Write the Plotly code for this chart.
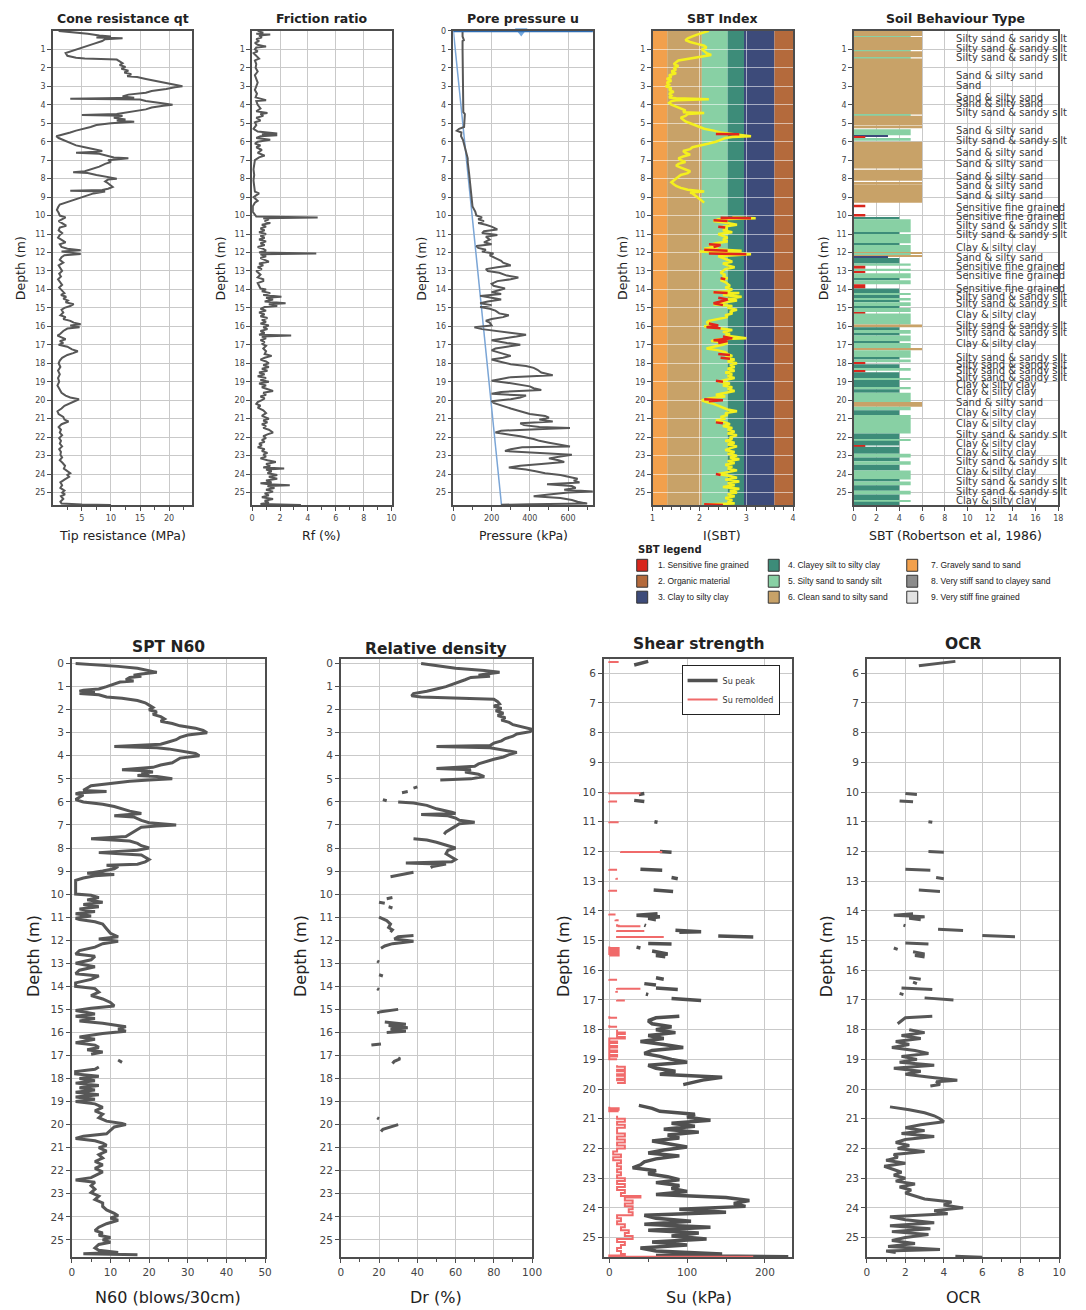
import plotly.graph_objects as go

W, H = 1086, 1310

# ---------------- DATA (depth m, value) ----------------
QT = [(0.0,1.0),(0.05,3),(0.15,6),(0.25,8),(0.3,10),(0.35,7.5),(0.4,12),(0.45,9),(0.55,8.5),(0.7,7),(0.85,5.5),(1.0,4),(1.1,3),(1.2,2.2),(1.35,2.5),(1.45,4),(1.5,5.5),(1.55,11),(1.65,11.5),(1.75,12),(1.85,11.5),(1.95,12.5),(2.05,11.8),(2.15,13),(2.25,12.3),(2.35,13.5),(2.45,12.8),(2.5,14.5),(2.6,16),(2.7,17.5),(2.8,19),(2.9,20.5),(3.0,22.3),(3.05,21),(3.15,19.5),(3.25,17),(3.35,16),(3.45,13),(3.55,12),(3.62,14),(3.68,3),(3.72,15),(3.8,16),(3.9,18.5),(4.0,20.6),(4.05,19),(4.15,17),(4.25,16),(4.35,14),(4.45,12.5),(4.5,11),(4.55,5),(4.6,12),(4.7,10.5),(4.8,12.5),(4.85,11),(4.92,14),(5.0,10),(5.1,7.5),(5.2,6.5),(5.3,5),(5.4,4),(5.5,3),(5.6,1.5),(5.7,0.6),(5.8,1.0),(5.9,1.8),(6.0,2.5),(6.1,3.5),(6.2,4),(6.3,5.5),(6.4,7),(6.5,8.5),(6.55,7.5),(6.6,4),(6.65,8),(6.75,9.5),(6.85,10.5),(6.9,13),(6.95,11),(7.0,9.5),(7.1,10),(7.2,9),(7.35,8),(7.5,6.5),(7.6,5.5),(7.65,3.5),(7.7,6),(7.8,7.5),(7.9,9),(8.0,11),(8.05,9.5),(8.15,9),(8.25,9.5),(8.35,10),(8.45,10.3),(8.55,9.5),(8.62,8.5),(8.66,3),(8.7,9),(8.8,7),(8.9,6),(9.0,5),(9.1,4),(9.2,3),(9.3,2),(9.4,1.2),(9.55,0.9),(9.7,0.7),(9.85,1.0),(10.0,1.2),(10.1,2.2),(10.2,1.5),(10.3,1.0),(10.45,1.8),(10.55,2.3),(10.65,1.2),(10.8,1.0),(10.95,1.6),(11.05,1.2),(11.2,0.9),(11.35,1.7),(11.45,2.2),(11.55,1.2),(11.7,1.5),(11.8,2.5),(11.88,4.8),(11.95,1.5),(12.02,3),(12.08,4.8),(12.15,2),(12.25,1.5),(12.4,1.2),(12.55,1.8),(12.7,1.0),(12.85,1.3),(13.0,1.6),(13.15,1.1),(13.3,1.4),(13.45,0.9),(13.6,1.2),(13.75,1.6),(13.9,1.1),(14.05,1.5),(14.2,2.0),(14.3,1.4),(14.4,2.3),(14.5,1.8),(14.6,2.6),(14.7,2.2),(14.8,3.6),(14.9,3.0),(15.0,2.0),(15.1,1.5),(15.25,1.8),(15.4,1.3),(15.5,2.2),(15.6,1.8),(15.7,3.0),(15.8,3.6),(15.88,4.8),(15.95,3),(16.05,4.6),(16.12,2.5),(16.25,1.8),(16.4,1.3),(16.5,0.8),(16.6,1.5),(16.7,2.2),(16.8,1.2),(16.9,1.8),(17.0,1.0),(17.1,2.5),(17.25,3.3),(17.35,4.3),(17.45,3.5),(17.55,2.5),(17.7,1.6),(17.85,1.2),(18.0,1.0),(18.2,1.3),(18.4,0.9),(18.6,1.2),(18.8,0.9),(19.0,1.1),(19.2,0.8),(19.4,1.2),(19.6,1.5),(19.75,2.2),(19.85,3),(19.95,4.5),(20.05,3.8),(20.15,2.8),(20.3,2.0),(20.45,1.5),(20.6,0.8),(20.75,1.0),(20.9,1.8),(21.05,2.0),(21.15,2.7),(21.3,1.5),(21.45,1.0),(21.6,1.4),(21.75,1.2),(21.9,1.6),(22.05,1.1),(22.2,1.4),(22.35,1.2),(22.5,1.6),(22.65,1.1),(22.8,1.4),(22.95,1.3),(23.1,1.6),(23.25,1.2),(23.4,1.7),(23.55,2.1),(23.7,1.9),(23.85,2.6),(23.95,3.0),(24.05,2.5),(24.15,2.8),(24.3,2.0),(24.45,1.3),(24.6,1.6),(24.75,1.3),(24.9,2.0),(25.0,1.6),(25.1,2.1),(25.2,1.4),(25.35,1.8),(25.5,1.3),(25.6,1.5),(25.65,5),(25.68,10)]

RF = [(0.0,0.4),(0.1,0.8),(0.15,0.3),(0.2,1.3),(0.25,0.5),(0.35,0.7),(0.45,0.3),(0.55,0.5),(0.65,0.2),(0.75,0.4),(0.85,1.0),(0.9,0.3),(1.0,0.2),(1.1,0.4),(1.2,0.1),(1.35,0.3),(1.5,0.5),(1.6,0.2),(1.8,0.3),(2.0,0.25),(2.2,0.4),(2.4,0.2),(2.6,0.3),(2.8,0.4),(3.0,0.3),(3.2,0.2),(3.4,0.35),(3.6,0.25),(3.75,1.0),(3.8,0.3),(4.0,0.4),(4.2,0.6),(4.35,0.3),(4.45,1.1),(4.5,0.6),(4.6,0.8),(4.7,0.3),(4.85,0.6),(4.95,0.2),(5.1,0.3),(5.3,0.1),(5.45,0.4),(5.55,1.8),(5.6,0.7),(5.65,1.8),(5.7,0.6),(5.8,0.3),(5.9,1.3),(6.0,0.4),(6.1,0.2),(6.2,0.6),(6.3,0.3),(6.45,0.7),(6.6,0.4),(6.75,0.9),(6.85,0.5),(7.0,0.2),(7.2,0.15),(7.5,0.1),(7.8,0.15),(8.1,0.1),(8.4,0.15),(8.7,0.2),(8.8,0.5),(8.9,0.3),(9.0,0.1),(9.2,0.4),(9.3,0.2),(9.5,0.05),(9.8,0.05),(10.05,0.3),(10.1,4.7),(10.15,0.8),(10.2,1.2),(10.3,0.9),(10.4,1.3),(10.5,0.7),(10.6,1.0),(10.7,0.6),(10.8,0.9),(10.9,0.5),(11.0,1.0),(11.1,0.6),(11.2,0.9),(11.3,0.5),(11.4,1.0),(11.5,0.6),(11.6,0.9),(11.7,0.4),(11.8,0.8),(11.9,1.0),(12.0,0.5),(12.05,4.6),(12.1,0.6),(12.2,1.0),(12.3,0.6),(12.4,0.9),(12.5,1.2),(12.6,0.5),(12.7,0.8),(12.8,0.4),(12.9,0.7),(13.0,0.3),(13.2,0.6),(13.35,0.4),(13.45,0.8),(13.55,0.8),(13.65,0.4),(13.8,0.5),(13.95,0.6),(14.0,1.0),(14.1,0.7),(14.2,1.3),(14.3,0.8),(14.4,2.1),(14.45,1.0),(14.55,1.5),(14.65,0.9),(14.75,2.4),(14.8,1.2),(14.9,1.8),(14.95,0.9),(15.05,0.6),(15.15,1.0),(15.25,0.5),(15.35,0.9),(15.45,0.6),(15.55,1.1),(15.65,0.7),(15.75,1.0),(15.85,0.6),(15.95,1.2),(16.05,0.8),(16.15,1.1),(16.25,0.6),(16.35,0.9),(16.45,0.5),(16.5,2.8),(16.55,0.7),(16.65,1.0),(16.75,0.6),(16.85,0.9),(16.95,0.7),(17.05,1.0),(17.2,0.8),(17.35,1.0),(17.5,0.9),(17.6,1.4),(17.7,0.9),(17.8,0.6),(17.9,1.0),(18.0,1.2),(18.1,0.8),(18.2,1.2),(18.3,0.7),(18.4,1.1),(18.5,0.5),(18.6,0.9),(18.7,0.4),(18.8,1.0),(18.9,0.6),(19.0,1.2),(19.1,0.5),(19.2,1.0),(19.3,0.7),(19.4,1.1),(19.5,1.5),(19.6,0.8),(19.7,1.0),(19.8,0.6),(19.9,0.9),(20.0,0.7),(20.1,0.4),(20.2,0.3),(20.3,0.6),(20.4,0.4),(20.55,0.8),(20.7,1.0),(20.85,0.7),(21.0,1.2),(21.1,0.8),(21.2,1.1),(21.3,0.7),(21.4,1.0),(21.5,0.8),(21.6,1.2),(21.75,1.5),(21.85,1.1),(21.95,0.8),(22.05,1.0),(22.15,0.7),(22.25,0.9),(22.35,0.5),(22.45,0.7),(22.55,0.4),(22.65,0.9),(22.75,0.7),(22.85,1.1),(22.95,0.8),(23.05,1.0),(23.15,0.6),(23.25,1.1),(23.35,1.7),(23.45,1.0),(23.55,1.3),(23.65,0.8),(23.7,2.3),(23.75,1.0),(23.85,1.4),(23.95,1.1),(24.05,1.8),(24.15,1.2),(24.25,1.8),(24.35,1.0),(24.45,1.4),(24.5,0.6),(24.55,1.2),(24.6,2.7),(24.65,1.1),(24.75,1.6),(24.85,1.0),(24.95,1.5),(25.05,0.9),(25.15,1.2),(25.25,0.7),(25.35,1.5),(25.45,0.9),(25.55,1.2),(25.62,0.6),(25.68,3.5)]

U = [(0.0,48),(0.3,48),(0.5,55),(0.55,48),(1.0,48),(2.0,49),(3.0,50),(4.0,51),(4.4,52),(4.5,60),(4.8,58),(5.0,55),(5.2,56),(5.3,30),(5.4,18),(5.5,42),(5.7,40),(5.9,50),(6.1,55),(6.3,60),(6.5,65),(6.7,70),(6.9,75),(7.1,75),(7.4,80),(7.7,82),(8.0,85),(8.3,88),(8.6,90),(8.9,95),(9.2,98),(9.5,100),(9.8,115),(10.0,120),(10.1,150),(10.2,130),(10.3,160),(10.4,130),(10.5,170),(10.6,200),(10.75,230),(10.85,160),(10.95,150),(11.05,230),(11.15,170),(11.3,190),(11.45,160),(11.55,200),(11.65,120),(11.75,130),(11.85,170),(11.95,150),(12.05,210),(12.15,190),(12.3,220),(12.45,250),(12.55,260),(12.7,300),(12.8,230),(12.9,170),(13.0,180),(13.1,240),(13.25,280),(13.35,340),(13.45,300),(13.55,230),(13.7,200),(13.8,210),(13.95,270),(14.05,230),(14.15,200),(14.25,250),(14.35,140),(14.45,200),(14.55,250),(14.65,180),(14.75,140),(14.85,200),(14.95,140),(15.05,190),(15.15,220),(15.3,240),(15.4,290),(15.5,260),(15.6,200),(15.7,170),(15.8,190),(15.95,200),(16.05,110),(16.15,150),(16.25,230),(16.35,300),(16.45,380),(16.55,330),(16.65,250),(16.75,200),(16.9,280),(17.0,350),(17.1,280),(17.2,220),(17.3,200),(17.45,250),(17.6,300),(17.7,260),(17.8,200),(17.9,240),(18.05,300),(18.15,380),(18.25,420),(18.35,440),(18.5,460),(18.65,520),(18.75,300),(18.85,250),(18.95,200),(19.05,280),(19.15,350),(19.25,400),(19.35,420),(19.45,460),(19.55,250),(19.65,200),(19.75,380),(19.85,350),(19.95,300),(20.05,200),(20.15,210),(20.3,250),(20.45,300),(20.6,350),(20.75,400),(20.85,480),(20.95,500),(21.05,450),(21.15,520),(21.25,350),(21.35,370),(21.45,450),(21.5,610),(21.55,500),(21.65,250),(21.75,220),(21.85,300),(21.95,350),(22.1,420),(22.2,450),(22.3,500),(22.4,550),(22.5,610),(22.55,360),(22.65,300),(22.75,270),(22.85,450),(22.95,620),(23.05,560),(23.15,500),(23.25,550),(23.35,580),(23.45,460),(23.55,350),(23.65,290),(23.75,380),(23.85,430),(23.95,480),(24.05,560),(24.15,600),(24.25,650),(24.35,630),(24.45,660),(24.55,490),(24.65,620),(24.75,640),(24.85,580),(24.95,730),(25.0,600),(25.1,500),(25.2,420),(25.3,560),(25.4,620),(25.5,650),(25.6,700),(25.64,400),(25.66,250),(25.7,300)]

HYDRO_DEPTH = [0.0, 25.7]
HYDRO_U = [0, 252]
WATER_TABLE_DEPTH = 0.0
WATER_MARK_U = 355

IC = [(0.0,2.2),(0.1,2.05),(0.2,1.95),(0.3,1.85),(0.4,1.75),(0.5,1.7),(0.6,1.8),(0.7,1.95),(0.8,2.1),(0.9,2.15),(1.0,2.05),(1.1,2.1),(1.2,2.15),(1.3,2.25),(1.4,2.0),(1.5,1.8),(1.6,1.55),(1.7,1.5),(1.8,1.45),(1.9,1.55),(2.0,1.45),(2.1,1.5),(2.2,1.4),(2.3,1.5),(2.4,1.35),(2.5,1.4),(2.6,1.3),(2.7,1.4),(2.8,1.3),(2.9,1.35),(3.0,1.28),(3.1,1.4),(3.2,1.35),(3.3,1.45),(3.4,1.35),(3.5,1.4),(3.6,1.35),(3.65,1.5),(3.7,2.2),(3.75,1.5),(3.8,1.4),(3.9,1.35),(4.0,1.4),(4.1,1.5),(4.2,1.6),(4.3,1.7),(4.4,1.65),(4.45,2.1),(4.5,1.75),(4.6,1.7),(4.7,1.6),(4.8,1.65),(4.9,1.7),(5.0,1.8),(5.1,1.9),(5.2,2.0),(5.3,2.1),(5.4,2.3),(5.5,2.45),(5.55,2.6),(5.6,2.8),(5.65,2.9),(5.7,3.1),(5.75,2.7),(5.8,2.55),(5.9,2.45),(6.0,2.35),(6.1,2.2),(6.2,2.0),(6.3,1.85),(6.4,1.8),(6.5,1.65),(6.6,1.7),(6.7,1.8),(6.8,1.65),(6.9,1.55),(7.0,1.6),(7.1,1.7),(7.2,1.55),(7.3,1.5),(7.4,1.6),(7.5,1.7),(7.6,1.8),(7.7,1.75),(7.8,1.6),(7.9,1.55),(8.0,1.5),(8.1,1.45),(8.2,1.4),(8.3,1.45),(8.4,1.5),(8.5,1.6),(8.6,1.75),(8.7,2.1),(8.75,1.8),(8.8,1.85),(8.9,1.9),(9.0,1.95),(9.1,2.0),(9.2,2.05),(9.3,2.1),(9.5,None),(10.1,2.7),(10.15,3.2),(10.2,2.4),(10.3,2.3),(10.4,2.6),(10.5,2.8),(10.6,2.5),(10.7,2.6),(10.8,2.5),(10.9,2.7),(11.0,2.4),(11.1,2.5),(11.2,2.6),(11.3,2.5),(11.4,2.6),(11.5,2.35),(11.6,2.2),(11.7,2.4),(11.8,2.1),(11.9,2.9),(11.95,2.0),(12.0,2.5),(12.1,3.1),(12.2,2.4),(12.3,2.5),(12.4,2.6),(12.5,2.7),(12.6,2.5),(12.7,2.6),(12.8,2.75),(12.9,2.55),(13.0,2.5),(13.1,2.45),(13.2,2.55),(13.3,2.5),(13.4,2.6),(13.5,2.45),(13.6,2.55),(13.7,2.6),(13.8,2.65),(13.9,2.55),(14.0,2.7),(14.1,2.6),(14.15,2.3),(14.2,2.85),(14.3,2.5),(14.4,2.9),(14.5,2.6),(14.6,2.8),(14.7,2.5),(14.8,2.3),(14.9,2.7),(15.0,2.6),(15.1,2.8),(15.2,2.65),(15.3,2.7),(15.4,2.55),(15.5,2.6),(15.6,2.35),(15.7,2.2),(15.8,2.15),(15.9,2.3),(16.0,2.1),(16.1,2.4),(16.2,2.7),(16.3,2.5),(16.4,2.65),(16.5,2.55),(16.6,2.8),(16.65,3.0),(16.7,2.4),(16.8,2.25),(16.9,2.6),(17.0,2.5),(17.1,2.3),(17.2,2.15),(17.3,2.4),(17.4,2.55),(17.5,2.6),(17.6,2.7),(17.7,2.55),(17.8,2.75),(17.9,2.6),(18.0,2.8),(18.1,2.65),(18.2,2.75),(18.3,2.6),(18.4,2.75),(18.5,2.55),(18.6,2.7),(18.7,2.6),(18.8,2.75),(18.9,2.55),(19.0,2.4),(19.1,2.65),(19.2,2.5),(19.3,2.7),(19.4,2.6),(19.5,2.75),(19.6,2.5),(19.7,2.35),(19.8,2.55),(19.9,2.2),(20.0,2.05),(20.1,2.15),(20.2,2.3),(20.3,2.4),(20.4,2.5),(20.5,2.6),(20.6,2.8),(20.7,2.55),(20.8,2.6),(20.9,2.45),(21.0,2.55),(21.1,2.35),(21.2,2.55),(21.3,2.65),(21.4,2.5),(21.5,2.7),(21.6,2.6),(21.7,2.75),(21.8,2.6),(21.9,2.8),(22.0,2.65),(22.1,2.7),(22.2,2.55),(22.3,2.75),(22.4,2.6),(22.5,2.8),(22.6,2.65),(22.7,2.55),(22.8,2.75),(22.9,2.6),(23.0,2.8),(23.1,2.65),(23.2,2.85),(23.3,2.6),(23.4,2.75),(23.5,2.55),(23.6,2.7),(23.7,2.6),(23.8,2.8),(23.9,2.55),(24.0,2.4),(24.1,2.65),(24.2,2.8),(24.3,2.55),(24.4,2.85),(24.5,2.6),(24.6,2.75),(24.7,2.5),(24.8,2.85),(24.9,2.65),(25.0,2.8),(25.1,2.6),(25.2,2.75),(25.3,2.55),(25.4,2.7),(25.5,2.6),(25.6,2.75),(25.65,2.1),(25.7,2.6)]

SENSITIVE_SEGMENTS = [
    [(5.58,2.35),(5.6,2.85)],
    [(10.12,2.45),(10.15,3.1)], [(10.25,2.3),(10.3,2.6)], [(10.6,2.4),(10.65,2.55)],
    [(11.55,2.2),(11.6,2.45),(11.7,2.3)], [(11.85,2.1),(11.9,2.6)], [(12.05,2.2),(12.1,3.0)],
    [(13.4,2.45),(13.45,2.55)], [(14.15,2.3),(14.2,2.6)],
    [(14.45,2.4),(14.55,2.6),(14.65,2.45),(14.75,2.3),(14.85,2.5)],
    [(15.85,2.2),(15.95,2.4),(16.05,2.15),(16.1,2.45)],
    [(16.55,2.5),(16.65,2.7),(16.75,2.3),(16.8,2.6),(16.9,2.4)],
    [(17.5,2.4),(17.55,2.65)], [(17.7,2.45),(17.75,2.65)],
    [(18.95,2.35),(19.0,2.5)], [(19.95,2.1),(20.0,2.5),(20.05,2.2)],
    [(21.2,2.35),(21.25,2.5)], [(24.0,2.35),(24.05,2.45)], [(25.63,2.1),(25.67,2.5)],
]

IC_BOUNDS = [1.0, 1.31, 2.05, 2.6, 2.95, 3.6, 4.0]
IC_BAND_ZONES = [7, 6, 5, 4, 3, 2]

ZONE_COLORS = {1: "#d8261c", 2: "#b46a3c", 3: "#3d4b7a", 4: "#3d8c79", 5: "#88d0a4",
               6: "#c8a268", 7: "#f2a04c", 8: "#8c8c8c", 9: "#e2e2e2"}
ZONE_NAMES = ["1. Sensitive fine grained", "2. Organic material", "3. Clay to silty clay",
              "4. Clayey silt to silty clay", "5. Silty sand to sandy silt", "6. Clean sand to silty sand",
              "7. Gravely sand to sand", "8. Very stiff sand to clayey sand", "9. Very stiff fine grained"]

SBT_LAYERS = [(0.0,0.28,6),(0.28,0.33,5),(0.33,1.03,6),(1.03,1.1,5),(1.1,1.43,6),(1.43,1.5,5),(1.5,4.53,6),(4.53,4.6,5),(4.6,5.12,6),(5.17,5.27,6),(5.32,5.65,5),(5.65,5.72,3),(5.72,5.8,1),(5.8,5.95,5),
(6.0,7.45,6),(7.52,8.12,6),(8.18,8.25,6),(8.3,9.3,6),(9.42,9.55,1),(9.95,10.05,1),
(10.1,10.2,4),(10.2,10.9,5),(10.9,11.0,4),(11.0,11.5,5),(11.5,11.6,4),(11.6,11.97,5),(11.97,12.05,6),(12.05,12.15,5),(12.15,12.22,6),(12.22,12.3,3),(12.3,12.6,4),(12.6,12.72,5),(12.72,12.88,1),(12.88,13.0,5),(13.0,13.12,1),(13.12,13.4,5),(13.4,13.5,4),(13.5,13.72,5),(13.72,13.95,1),(13.95,14.2,4),(14.2,14.3,5),(14.3,14.5,4),(14.5,14.6,5),(14.6,14.7,4),(14.7,14.9,5),(14.9,15.0,4),(15.0,15.22,5),(15.22,15.3,1),(15.3,15.9,5),(15.9,16.05,6),(16.05,16.2,4),(16.2,16.4,5),(16.4,16.5,4),(16.5,16.8,5),(16.8,16.9,4),(16.9,17.22,5),(17.22,17.3,6),(17.3,17.7,5),(17.7,17.8,4),(17.8,17.95,5),(17.95,18.05,1),(18.05,18.3,4),(18.3,18.4,5),(18.4,18.48,1),(18.48,18.8,4),(18.8,18.9,5),(18.9,19.3,4),(19.3,19.4,5),(19.4,19.6,4),(19.6,20.1,5),(20.1,20.35,6),(20.35,20.55,5),(20.55,20.8,4),(20.8,21.8,5),(21.8,22.1,4),(22.1,22.2,5),(22.2,22.45,4),(22.45,22.52,1),(22.52,22.9,4),(22.9,23.1,5),(23.1,23.3,4),(23.3,23.5,5),(23.5,23.8,4),(23.8,24.3,5),(24.3,24.4,4),(24.4,24.6,5),(24.6,24.9,4),(24.9,25.1,5),(25.1,25.4,4),(25.4,25.5,5),(25.5,25.7,4)]

SBT_LABEL_DEPTHS = [0.45,1.0,1.5,2.45,3.0,3.65,4.0,4.5,5.45,6.0,6.65,7.25,7.95,8.45,8.95,9.6,10.1,10.6,11.1,11.8,12.3,12.8,13.3,14.0,14.45,14.8,15.4,16.0,16.4,17.0,17.75,18.1,18.45,18.8,19.2,19.6,20.2,20.7,21.3,21.9,22.4,22.9,23.4,23.9,24.45,25.0,25.5]
SBT_LABELS = ["Silty sand & sandy silt","Silty sand & sandy silt","Silty sand & sandy silt","Sand & silty sand","Sand","Sand & silty sand","Sand & silty sand","Silty sand & sandy silt","Sand & silty sand","Silty sand & sandy silt","Sand & silty sand","Sand & silty sand","Sand & silty sand","Sand & silty sand","Sand & silty sand","Sensitive fine grained","Sensitive fine grained","Silty sand & sandy silt","Silty sand & sandy silt","Clay & silty clay","Sand & silty sand","Sensitive fine grained","Sensitive fine grained","Sensitive fine grained","Silty sand & sandy silt","Silty sand & sandy silt","Clay & silty clay","Silty sand & sandy silt","Silty sand & sandy silt","Clay & silty clay","Silty sand & sandy silt","Silty sand & sandy silt","Silty sand & sandy silt","Silty sand & sandy silt","Clay & silty clay","Clay & silty clay","Sand & silty sand","Clay & silty clay","Clay & silty clay","Silty sand & sandy silt","Clay & silty clay","Clay & silty clay","Silty sand & sandy silt","Clay & silty clay","Silty sand & sandy silt","Silty sand & sandy silt","Clay & silty clay"]

N60 = [(0.0,1),(0.05,6),(0.12,12),(0.2,17),(0.3,20),(0.38,22),(0.45,18),(0.5,16),(0.55,18),(0.6,15),(0.7,14),(0.75,16),(0.8,12.5),(0.9,11),(1.0,9),(1.1,7),(1.15,3),(1.2,2),(1.25,6),(1.3,2),(1.35,7),(1.45,9),(1.5,13),(1.6,17),(1.7,19),(1.8,20),(1.9,21),(2.0,20),(2.1,22),(2.2,21),(2.3,23),(2.4,24),(2.5,23),(2.6,26),(2.7,28),(2.8,32),(2.9,34),(3.0,35),(3.05,33),(3.1,30),(3.2,28),(3.3,27),(3.4,25),(3.5,23),(3.6,11),(3.65,22),(3.7,25),(3.8,29),(3.9,32),(4.0,33),(4.05,30),(4.1,28),(4.2,27),(4.3,26),(4.4,23),(4.5,21),(4.6,13),(4.65,19),(4.7,21),(4.75,18),(4.8,20),(4.85,17),(4.9,22),(5.0,26),(5.05,20),(5.1,15),(5.2,10),(5.3,5),(5.4,4),(5.5,3),(5.55,9),(5.6,2),(5.65,1),(5.7,3),(5.8,2),(5.9,1),(6.0,3),(6.1,8),(6.2,11),(6.3,13),(6.4,15),(6.5,18),(6.55,15),(6.6,11),(6.65,16),(6.8,18),(6.9,20),(7.0,27),(7.05,22),(7.1,18),(7.2,17),(7.3,16),(7.4,15),(7.5,14),(7.6,5),(7.65,12),(7.7,15),(7.8,17),(7.9,18),(8.0,20),(8.1,17),(8.2,7),(8.25,15),(8.3,18),(8.4,19),(8.5,20),(8.6,19),(8.7,17),(8.75,9),(8.8,12),(8.9,11),(9.0,8),(9.1,4),(9.15,11),(9.2,6),(9.3,3),(9.4,1),(9.6,1),(9.8,1),(10.0,1),(10.05,5),(10.15,7),(10.25,4),(10.35,8),(10.45,3),(10.55,7),(10.65,2),(10.75,6),(10.85,1),(10.95,5),(11.05,1),(11.1,2),(11.2,6),(11.3,8),(11.5,9),(11.7,10),(11.85,12),(11.95,7),(12.05,12),(12.15,8),(12.3,6),(12.45,2),(12.6,1),(12.7,6),(12.85,5),(13.0,1),(13.15,6),(13.3,2),(13.45,1),(13.55,7),(13.7,5),(13.85,1),(14.0,1),(14.1,6),(14.25,7),(14.4,5),(14.55,8),(14.7,10),(14.85,11),(14.95,5),(15.05,1),(15.2,6),(15.3,1),(15.4,6),(15.5,2),(15.6,8),(15.75,14),(15.85,12),(15.95,14),(16.05,8),(16.2,2),(16.3,6),(16.45,1),(16.55,6),(16.65,7),(16.75,4),(16.85,8),(16.95,5),(17.05,None),(17.2,12),(17.3,13),(17.35,None),(17.5,7),(17.6,6),(17.7,1),(17.8,1),(17.9,7),(18.0,2),(18.1,6),(18.2,1),(18.3,7),(18.4,2),(18.5,6),(18.6,1),(18.7,7),(18.8,1),(18.9,6),(19.0,1),(19.1,6),(19.25,8),(19.4,6),(19.55,8),(19.7,7),(19.85,9),(19.95,13),(20.0,14),(20.1,11),(20.25,10),(20.4,9),(20.5,3),(20.6,1),(20.7,6),(20.8,8),(20.9,9),(21.0,7),(21.15,9),(21.3,7),(21.45,8),(21.6,6),(21.75,8),(21.9,6),(22.05,8),(22.2,6),(22.3,5),(22.4,1),(22.5,6),(22.65,5),(22.8,6),(22.95,5),(23.1,7),(23.25,6),(23.4,8),(23.55,8),(23.7,9),(23.85,11),(23.95,12),(24.05,10),(24.15,12),(24.3,9),(24.45,7),(24.6,6),(24.7,8),(24.8,7),(24.9,10),(25.0,8),(25.1,10),(25.2,7),(25.35,6),(25.45,7),(25.55,12),(25.6,3),(25.65,17)]

DR = [(0.0,42),(0.1,50),(0.2,60),(0.3,75),(0.38,83),(0.45,76),(0.5,72),(0.55,78),(0.6,68),(0.7,65),(0.8,62),(0.9,58),(1.0,55),(1.1,50),(1.2,45),(1.3,38),(1.4,37),(1.45,42),(1.5,60),(1.55,80),(1.65,82),(1.75,83),(1.85,80),(1.95,84),(2.05,81),(2.15,85),(2.25,82),(2.35,86),(2.45,84),(2.55,88),(2.65,90),(2.75,96),(2.85,100),(2.95,99),(3.05,92),(3.15,90),(3.25,86),(3.35,84),(3.45,80),(3.55,78),(3.6,50),(3.65,78),(3.75,84),(3.85,92),(3.95,88),(4.05,85),(4.15,80),(4.25,76),(4.35,72),(4.45,70),(4.55,50),(4.6,68),(4.7,65),(4.8,72),(4.9,75),(5.0,68),(5.05,52),(5.1,None),
(5.35,40),(5.4,38),(5.45,None),(5.55,35),(5.6,32),(5.65,None),(5.9,22),(5.95,24),(5.98,None),
(6.0,30),(6.05,38),(6.15,45),(6.3,50),(6.45,58),(6.5,60),(6.55,42),(6.6,56),(6.7,60),(6.8,62),(6.88,70),(6.95,62),(7.05,60),(7.15,58),(7.3,55),(7.4,54),(7.45,None),
(7.6,38),(7.65,45),(7.75,50),(7.9,56),(8.0,60),(8.1,56),(8.25,55),(8.4,58),(8.5,60),(8.6,58),(8.65,34),(8.7,55),(8.8,48),(8.85,47),(8.9,None),
(9.05,38),(9.15,32),(9.25,26),(9.3,None),
(10.15,27),(10.2,24),(10.25,None),(10.35,20),(10.4,23),(10.45,None),(10.55,25),(10.6,27),(10.65,None),
(11.0,20),(11.15,24),(11.3,26),(11.45,25),(11.55,27),(11.65,26),(11.75,None),(11.8,38),(11.85,30),(11.95,28),(12.05,38),(12.15,27),(12.25,23),(12.35,21),(12.4,None),
(12.9,19),(12.95,20),(13.0,None),(13.5,20),(13.55,22),(13.6,None),(14.1,19),(14.15,20),(14.2,None),
(15.0,30),(15.05,25),(15.1,21),(15.15,19),(15.2,None),
(15.55,23),(15.65,34),(15.7,25),(15.8,35),(15.85,26),(15.95,34),(16.0,24),(16.05,None),
(16.5,21),(16.55,16),(16.6,None),(17.1,30),(17.15,31),(17.25,28),(17.35,27),(17.4,None),
(19.7,19),(19.75,20),(19.8,None),(20.0,30),(20.1,26),(20.2,22),(20.3,21)]

SU_PEAK = [(5.6,50),(5.65,42),(5.72,32),(5.75,None),
(10.05,45),(10.08,38),(10.1,None),(10.28,32),(10.32,45),(10.35,None),(11.0,58),(11.02,62),(11.05,None),
(12.0,65),(12.03,80),(12.05,None),(12.6,40),(12.63,68),(12.65,None),(12.88,80),(12.92,88),(12.95,None),
(13.3,57),(13.35,82),(13.4,None),(14.1,62),(14.15,35),(14.2,65),(14.25,50),(14.3,60),(14.35,None),
(14.48,45),(14.5,47),(14.55,None),(14.65,85),(14.7,118),(14.72,90),(14.75,None),(14.85,140),(14.88,185),(14.9,None),
(15.1,50),(15.12,80),(15.15,None),(15.22,35),(15.25,40),(15.3,None),(15.35,55),(15.45,75),(15.5,60),(15.55,72),(15.6,None),
(16.25,60),(16.3,70),(16.35,None),(16.45,45),(16.5,60),(16.55,None),(16.6,60),(16.65,88),(16.7,None),(16.8,47),(16.82,50),(16.85,None),(16.95,80),(17.02,118),(17.05,None),
(17.55,90),(17.6,60),(17.7,50),(17.8,55),(17.9,80),(18.0,60),(18.1,85),(18.2,50),(18.3,70),(18.4,40),(18.5,70),(18.6,95),(18.7,55),(18.8,45),(18.9,65),(19.0,80),(19.1,100),(19.2,50),(19.3,60),(19.4,85),(19.5,65),(19.6,145),(19.7,120),(19.8,100),(19.85,95),(19.9,None),
(20.55,38),(20.65,55),(20.75,65),(20.85,110),(20.95,100),(21.05,130),(21.15,80),(21.25,110),(21.35,70),(21.45,115),(21.55,75),(21.65,90),(21.75,55),(21.85,80),(21.95,100),(22.05,70),(22.15,50),(22.25,90),(22.35,60),(22.45,45),(22.55,40),(22.65,30),(22.75,60),(22.85,50),(22.95,75),(23.05,90),(23.15,60),(23.25,90),(23.35,80),(23.45,100),(23.55,60),(23.65,150),(23.75,180),(23.85,160),(23.95,175),(24.05,90),(24.15,150),(24.25,45),(24.35,60),(24.45,105),(24.55,45),(24.65,130),(24.75,50),(24.85,115),(24.95,80),(25.05,125),(25.15,55),(25.25,100),(25.35,40),(25.45,60),(25.55,145),(25.6,60),(25.65,230)]

SU_REM = [(5.6,0),(5.62,12),(5.65,None),(10.02,0),(10.04,40),(10.06,None),(10.3,0),(10.32,10),(10.35,None),
(11.0,0),(11.02,12),(11.05,None),(12.0,15),(12.02,68),(12.04,None),(12.6,0),(12.62,10),(12.65,None),(12.9,9),(12.92,11),(12.95,None),(13.3,0),(13.32,10),(13.35,None),
(14.1,0),(14.12,8),(14.15,None),(14.3,8),(14.32,12),(14.35,None),(14.45,10),(14.5,12),(14.52,40),(14.55,None),(14.65,10),(14.68,45),(14.7,None),(14.85,10),(14.88,70),(14.9,None),
(15.2,0),(15.25,12),(15.3,0),(15.35,12),(15.4,0),(15.45,12),(15.5,0),(15.55,None),
(16.3,0),(16.32,10),(16.35,None),(16.6,10),(16.62,40),(16.65,None),(16.7,9),(16.72,11),(16.75,None),(17.0,10),(17.02,20),(17.05,None),
(17.55,0),(17.6,10),(17.65,None),(17.85,0),(17.9,10),(17.95,None),
(18.0,10),(18.1,20),(18.15,10),(18.25,20),(18.3,0),(18.4,10),(18.45,0),(18.55,10),(18.6,0),(18.7,10),(18.75,0),(18.85,10),(18.9,0),(19.0,10),(19.05,None),
(19.2,10),(19.25,20),(19.35,10),(19.4,20),(19.5,10),(19.55,20),(19.65,10),(19.7,20),(19.8,10),(19.85,None),
(20.6,0),(20.65,12),(20.7,0),(20.75,12),(20.8,None),
(20.9,10),(21.0,20),(21.1,10),(21.2,20),(21.3,10),(21.4,10),(21.5,20),(21.6,10),(21.7,20),(21.8,10),(21.9,20),(22.0,10),(22.1,5),(22.2,15),(22.3,5),(22.4,15),(22.5,10),(22.6,15),(22.7,10),(22.8,15),(22.9,10),(23.0,20),(23.1,10),(23.2,20),(23.3,10),(23.4,20),(23.5,15),(23.6,40),(23.65,20),(23.75,30),(23.85,20),(23.95,30),(24.05,25),(24.15,30),(24.25,10),(24.35,15),(24.45,10),(24.55,20),(24.65,15),(24.75,25),(24.85,20),(24.95,30),(25.05,10),(25.15,20),(25.25,15),(25.35,10),(25.45,15),(25.55,20),(25.6,0),(25.65,185)]

OCR = [(5.6,4.6),(5.65,4.0),(5.7,3.5),(5.75,2.7),(5.78,None),
(10.05,2.0),(10.08,2.6),(10.1,None),(10.3,1.7),(10.33,2.4),(10.35,None),(11.0,3.2),(11.02,3.4),(11.05,None),
(12.0,3.2),(12.03,4.0),(12.05,None),(12.6,2.0),(12.63,3.3),(12.65,None),(12.88,3.6),(12.92,4.0),(12.95,None),
(13.3,2.7),(13.35,3.8),(13.4,None),(14.1,2.4),(14.15,1.4),(14.2,3.0),(14.25,2.2),(14.3,2.8),(14.35,None),
(14.48,1.9),(14.5,2.0),(14.55,None),(14.62,3.7),(14.66,5.0),(14.7,None),(14.83,6.0),(14.87,7.7),(14.9,None),
(15.08,2.0),(15.12,3.2),(15.15,None),(15.25,1.4),(15.3,1.6),(15.35,None),(15.38,2.4),(15.45,3.0),(15.5,2.5),(15.55,3.0),(15.6,None),
(16.25,2.2),(16.3,2.8),(16.35,None),(16.4,2.4),(16.45,2.6),(16.5,None),(16.6,1.8),(16.65,3.4),(16.7,None),(16.78,1.7),(16.82,1.9),(16.85,None),(16.93,3.0),(17.0,4.5),(17.05,None),
(17.55,3.4),(17.6,2.0),(17.7,1.8),(17.8,1.6),(17.85,None),
(18.0,2.2),(18.1,3.0),(18.2,1.8),(18.3,2.8),(18.4,1.5),(18.5,2.2),(18.6,1.3),(18.7,2.5),(18.8,3.2),(18.9,1.8),(19.0,2.6),(19.1,1.7),(19.2,3.5),(19.3,1.4),(19.4,2.8),(19.5,2.0),(19.6,3.3),(19.7,4.7),(19.75,3.6),(19.85,3.8),(19.9,3.3),(19.95,None),
(20.6,1.2),(20.65,1.6),(20.7,2.2),(20.8,3.0),(20.9,3.5),(21.0,3.8),(21.1,4.0),(21.2,2.8),(21.3,2.0),(21.4,3.0),(21.5,1.8),(21.6,3.5),(21.7,2.0),(21.8,1.5),(21.9,2.2),(22.0,1.6),(22.1,3.0),(22.2,1.4),(22.3,1.6),(22.4,1.0),(22.5,2.0),(22.6,0.9),(22.7,1.3),(22.8,1.8),(22.9,1.4),(23.0,2.0),(23.1,1.5),(23.2,2.5),(23.3,1.7),(23.4,2.3),(23.5,2.0),(23.6,2.5),(23.7,3.0),(23.8,4.4),(23.9,4.0),(24.0,5.0),(24.1,3.5),(24.2,4.2),(24.3,1.2),(24.4,2.0),(24.5,3.5),(24.6,1.2),(24.7,3.3),(24.8,1.3),(24.9,3.2),(25.0,2.0),(25.1,1.3),(25.2,2.5),(25.3,1.1),(25.4,3.8),(25.45,1.0),(25.5,1.5),(25.55,None),
(25.63,4.6),(25.66,6.0)]

# ---------------- STYLE / LAYOUT ----------------
FONT = "DejaVu Sans"
LINE = "#4d4d4d"
GRID = "#c9c9c9"
CURVE = "#575757"
KX = 1.0085  # horizontal correction measured against the rendered page

def fx(p): return min(1.0, p * KX / W)
def fy(p): return 1 - p / H

TOP_Y = (27, 503)
BOT_Y = (657, 1257)
TOP_DEPTHS = list(range(1, 26))

PANELS = {
    1: dict(xd=(50, 190), yd=TOP_Y, xr=[0, 24], yr=[25.7, 0], xt=[5, 10, 15, 20], xm=[2.5, 7.5, 12.5, 17.5, 22.5], yt=TOP_DEPTHS, fs=8),
    2: dict(xd=(250, 390), yd=TOP_Y, xr=[0, 10], yr=[25.7, 0], xt=[0, 2, 4, 6, 8, 10], xm=[1, 3, 5, 7, 9], yt=TOP_DEPTHS, fs=8),
    3: dict(xd=(452, 592), yd=TOP_Y, xr=[0, 730], yr=[25.7, 0], xt=[0, 200, 400, 600], xm=[100, 300, 500, 700], yt=list(range(0, 26)), fs=8),
    4: dict(xd=(652, 793), yd=TOP_Y, xr=[1, 4], yr=[25.7, 0], xt=[1, 2, 3, 4], xm=[1.2, 1.4, 1.6, 1.8, 2.2, 2.4, 2.6, 2.8, 3.2, 3.4, 3.6, 3.8], yt=TOP_DEPTHS, fs=8),
    5: dict(xd=(854, 1059), yd=TOP_Y, xr=[0, 18], yr=[25.7, 0], xt=list(range(0, 19, 2)), xm=[], yt=TOP_DEPTHS, fs=8),
    6: dict(xd=(69, 263), yd=BOT_Y, xr=[0, 50], yr=[25.75, -0.2], xt=[0, 10, 20, 30, 40, 50], xm=[5, 15, 25, 35, 45], yt=list(range(0, 26)), fs=10.5),
    7: dict(xd=(339, 531), yd=BOT_Y, xr=[0, 100], yr=[25.75, -0.2], xt=[0, 20, 40, 60, 80, 100], xm=[10, 30, 50, 70, 90], yt=list(range(0, 26)), fs=10.5),
    8: dict(xd=(603, 792), yd=BOT_Y, xr=[-7, 235], yr=[25.66, 5.52], xt=[0, 100, 200], xm=[50, 150], yt=list(range(6, 26)), fs=10.5),
    9: dict(xd=(867, 1060), yd=BOT_Y, xr=[0, 10], yr=[25.66, 5.52], xt=[0, 2, 4, 6, 8, 10], xm=[1, 3, 5, 7, 9], yt=list(range(6, 26)), fs=10.5),
}

def xa(n): return "x" if n == 1 else f"x{n}"
def ya(n): return "y" if n == 1 else f"y{n}"

def split(pairs):
    return [p[0] for p in pairs], [p[1] for p in pairs]

fig = go.Figure()

def add_line(pairs, n, color, width, name=None, legend=False, shape="linear"):
    d, v = split(pairs)
    fig.add_trace(go.Scatter(x=v, y=d, mode="lines", xaxis=xa(n), yaxis=ya(n),
                             line=dict(color=color, width=width, shape=shape),
                             name=name, showlegend=legend, hoverinfo="skip", connectgaps=False))

# Top row
add_line(QT, 1, CURVE, 2)
add_line(RF, 2, CURVE, 2)
fig.add_trace(go.Scatter(x=HYDRO_U, y=HYDRO_DEPTH, mode="lines", xaxis="x3", yaxis="y3",
                         line=dict(color="#7aa5d6", width=1.5), showlegend=False, hoverinfo="skip"))
add_line(U, 3, CURVE, 2)
fig.add_trace(go.Scatter(x=[WATER_MARK_U], y=[WATER_TABLE_DEPTH], mode="markers", xaxis="x3", yaxis="y3",
                         marker=dict(symbol="triangle-down", size=11, color="#74a8de", line=dict(width=0)),
                         cliponaxis=False, showlegend=False, hoverinfo="skip"))
add_line(IC, 4, "#f4f01e", 2.5)
red = []
for seg in SENSITIVE_SEGMENTS:
    red += list(seg) + [(None, None)]
rd, rv = split(red)
fig.add_trace(go.Scatter(x=rv, y=rd, mode="lines", xaxis="x4", yaxis="y4",
                         line=dict(color="#e1261c", width=2.5), showlegend=False, hoverinfo="skip"))

# SBT bars
mids = [(a + b) / 2 for a, b, z in SBT_LAYERS]
thick = [(b - a) for a, b, z in SBT_LAYERS]
zones = [z for a, b, z in SBT_LAYERS]
fig.add_trace(go.Bar(orientation="h", x=zones, y=mids, width=thick, base=0, xaxis="x5", yaxis="y5",
                     marker=dict(color=[ZONE_COLORS[z] for z in zones], line=dict(width=0)),
                     showlegend=False, hoverinfo="skip"))
LABEL_X = 9.0
fig.add_trace(go.Scatter(x=[LABEL_X] * len(SBT_LABELS), y=SBT_LABEL_DEPTHS, text=SBT_LABELS, mode="text",
                         textposition="middle right", textfont=dict(family=FONT, size=10, color="#3a3a3a"),
                         xaxis="x5", yaxis="y5", cliponaxis=False, showlegend=False, hoverinfo="skip"))

# Bottom row
add_line(N60, 6, CURVE, 3)
add_line(DR, 7, CURVE, 3)
add_line(SU_PEAK, 8, "#505050", 3.5, name="Su peak", legend=True)
add_line(SU_REM, 8, "#f06a6a", 2, name="Su remolded", legend=True, shape="vh")
add_line(OCR, 9, CURVE, 3)

layout = dict(width=W, height=H, autosize=False, margin=dict(l=0, r=0, t=0, b=0),
              paper_bgcolor="white", plot_bgcolor="white", font=dict(family=FONT, color="#222"),
              barmode="overlay", showlegend=True)

for n, p in PANELS.items():
    gridc = "rgba(255,255,255,0.55)" if n == 4 else GRID
    xkey = "xaxis" if n == 1 else f"xaxis{n}"
    ykey = "yaxis" if n == 1 else f"yaxis{n}"
    tickfont = dict(family=FONT, size=p["fs"], color="#444")
    xaxis = dict(domain=[fx(p["xd"][0]), fx(p["xd"][1])], range=p["xr"], anchor=ya(n),
                 showline=True, mirror=True, linecolor=LINE, linewidth=1.5,
                 ticks="outside", ticklen=4, tickcolor=LINE, tickmode="array", tickvals=p["xt"],
                 showgrid=True, gridcolor=gridc, gridwidth=1, zeroline=False, tickfont=tickfont,
                 fixedrange=True)
    if p["xm"]:
        xaxis["minor"] = dict(tickmode="array", tickvals=p["xm"], ticks="outside", ticklen=3,
                              tickcolor=LINE, showgrid=False)
    yaxis = dict(domain=[fy(p["yd"][1]), fy(p["yd"][0])], range=p["yr"], anchor=xa(n),
                 showline=True, mirror=True, linecolor=LINE, linewidth=1.5,
                 ticks="outside", ticklen=4, tickcolor=LINE, tickmode="array", tickvals=p["yt"],
                 showgrid=True, gridcolor=gridc, gridwidth=1, zeroline=False, tickfont=tickfont,
                 fixedrange=True)
    layout[xkey] = xaxis
    layout[ykey] = yaxis

layout["legend"] = dict(x=fx(681), y=fy(663), xanchor="left", yanchor="top", bgcolor="white",
                        bordercolor="#222", borderwidth=1, font=dict(family=FONT, size=8, color="#333"),
                        itemwidth=30, tracegroupgap=0)

shapes = []
for i, z in enumerate(IC_BAND_ZONES):
    shapes.append(dict(type="rect", xref="x4", yref="y4 domain", x0=IC_BOUNDS[i], x1=IC_BOUNDS[i + 1],
                       y0=0, y1=1, fillcolor=ZONE_COLORS[z], line=dict(width=0), layer="below"))
shapes.append(dict(type="line", xref="x3 domain", yref="y3", x0=0, x1=1, y0=WATER_TABLE_DEPTH, y1=WATER_TABLE_DEPTH,
                   line=dict(color="#2d6cb3", width=2.5), layer="above"))

annotations = []
def ann(text, x, y, size, bold=False, angle=0, xanchor="center", color="#222", family=FONT):
    annotations.append(dict(text=f"<b>{text}</b>" if bold else text, x=fx(x), y=fy(y), xref="paper", yref="paper",
                            xanchor=xanchor, yanchor="middle", showarrow=False, textangle=angle,
                            font=dict(family=family, size=size, color=color)))

for t, x in [("Cone resistance qt", 120), ("Friction ratio", 320), ("Pore pressure u", 522),
             ("SBT Index", 722), ("Soil Behaviour Type", 956)]:
    ann(t, x, 15, 12.5, bold=True)
for t, x, y in [("SPT N60", 166, 645), ("Relative density", 435, 647), ("Shear strength", 698, 642), ("OCR", 964, 642)]:
    ann(t, x, y, 15.5, bold=True)
for t, x in [("Tip resistance (MPa)", 120), ("Rf (%)", 320), ("Pressure (kPa)", 522),
             ("I(SBT)", 722), ("SBT (Robertson et al, 1986)", 956)]:
    ann(t, x, 533, 12.5)
for t, x in [("N60 (blows/30cm)", 166), ("Dr (%)", 435), ("Su (kPa)", 698), ("OCR", 964)]:
    ann(t, x, 1297, 16)
for x in [17, 218, 420, 621, 823]:
    ann("Depth (m)", x, 265, 12.5, angle=-90)
for x in [30, 298, 562, 826]:
    ann("Depth (m)", x, 955, 16, angle=-90)

ann("SBT legend", 635, 547, 10, bold=True, xanchor="left")
COL_SQ = [636, 768, 907]
COL_TX = [655, 786, 929]
ROW_Y = [563, 579, 595]
for i, name in enumerate(ZONE_NAMES):
    c, r = i // 3, i % 3
    sx, sy = COL_SQ[c], ROW_Y[r]
    shapes.append(dict(type="rect", xref="paper", yref="paper", x0=fx(sx), x1=fx(sx + 11),
                       y0=fy(sy + 6), y1=fy(sy - 6), fillcolor=ZONE_COLORS[i + 1],
                       line=dict(color="#333", width=1)))
    ann(name, COL_TX[c], sy, 8.5, xanchor="left", family="Liberation Sans", color="#222")

layout["shapes"] = shapes
layout["annotations"] = annotations
fig.update_layout(**layout)

fig.write_html("out.html", config={"displayModeBar": False},
               post_script="document.body.style.margin='0';document.body.style.overflow='hidden';")
